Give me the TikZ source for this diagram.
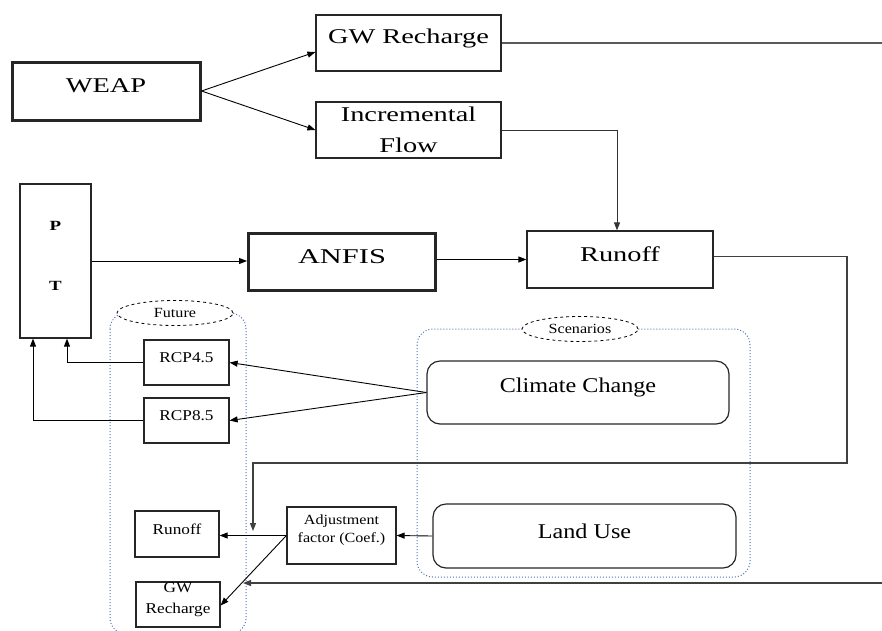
\documentclass[tikz,border=0pt]{standalone}
\usepackage{fontspec}
\setmainfont{Liberation Serif}
\newfontfamily\fA[FakeStretch=1.35]{Liberation Serif}
\newfontfamily\fAA[FakeStretch=1.45]{Liberation Serif}
\newfontfamily\fB[FakeStretch=1.15]{Liberation Serif}
\usetikzlibrary{arrows.meta,shapes.geometric}
\definecolor{dotblue}{HTML}{4F73B8}
\begin{document}
\begin{tikzpicture}[x=1pt,y=-1pt,
  box/.style={draw=black!85,line width=1.2pt,inner sep=0pt},
  thickbox/.style={box,line width=3pt},
  rbox/.style={box,rounded corners=13pt},
  txt/.style={yshift=5pt,inner sep=0pt,align=center},
  txtz/.style={inner sep=0pt,align=center},
  big/.style={font=\fA\fontsize{21}{31}\selectfont},
  bigw/.style={font=\fAA\fontsize{21}{25}\selectfont},
  bigB/.style={font=\fB\fontsize{21}{25}\selectfont},
  sm/.style={font=\fB\fontsize{15}{21}\selectfont},
  arr/.style={-{Triangle[length=8pt,width=6pt]},line width=0.9pt},
  ln/.style={line width=1.2pt,draw=black!65},
  cont/.style={draw=dotblue,dotted,line width=1pt,rounded corners=16pt},
  ell/.style={ellipse,draw,dashed,fill=white,line width=0.8pt,minimum width=116pt,minimum height=25pt,inner sep=0pt,font=\fB\fontsize{14}{16}\selectfont}
]
\useasboundingbox (0,0) rectangle (882,630);

% containers
\draw[cont] (110,313) rectangle (246,634);
\draw[cont] (417,329) rectangle (750,577);
\node[ell] (fut) at (175,313) {Future};
\node[ell] (scen) at (580,329) {Scenarios};

% boxes
\node[thickbox,minimum width=188pt,minimum height=58pt,label={[txt,big]center:WEAP}] (weap) at (106,91) {};
\node[box,minimum width=185pt,minimum height=56pt,label={[txt,big]center:GW Recharge}] (gwr) at (408.5,43) {};
\node[box,minimum width=185pt,minimum height=56pt,label={[txtz,big]center:Incremental\\Flow}] (inc) at (408.5,130) {};
\node[box,minimum width=71pt,minimum height=154pt,label={[txt,font=\fA\bfseries\fontsize{14}{16}\selectfont]center:P\\[44pt]T}] (pt) at (55.5,261) {};
\node[thickbox,minimum width=187pt,minimum height=57pt,label={[txt,bigw]center:ANFIS}] (anfis) at (342,261.5) {};
\node[box,minimum width=186pt,minimum height=57pt,label={[txt,big]center:Runoff}] (runoff) at (620,259.5) {};
\node[box,minimum width=85pt,minimum height=45pt,label={[txt,sm]center:RCP4.5}] (rcp45) at (186.5,362.5) {};
\node[box,minimum width=85pt,minimum height=45pt,label={[txt,sm]center:RCP8.5}] (rcp85) at (186.5,420.5) {};
\node[rbox,minimum width=302pt,minimum height=63pt,label={[txt,bigB]center:Climate Change}] (cc) at (578,392.5) {};
\node[rbox,minimum width=303pt,minimum height=64pt,label={[txt,bigB]center:Land Use}] (lu) at (584.5,536) {};
\node[box,minimum width=109pt,minimum height=57pt,label={[txt,font=\fB\fontsize{14}{18}\selectfont]center:Adjustment\\factor (Coef.)}] (adj) at (341.5,535.5) {};
\node[box,minimum width=84pt,minimum height=46pt,label={[txt,sm]center:Runoff}] (r2) at (177,534) {};
\node[box,minimum width=84pt,minimum height=45pt,label={[txt,sm]center:GW\\Recharge}] (gw2) at (178,604.5) {};

% coordinates
\coordinate (rt) at (882,0);
\coordinate (c1) at (847,463);
\coordinate (j) at (253,531);
\coordinate (b1) at (882,583);
\coordinate (b2) at (243,583);

% connectors
\draw[arr] (weap.east) -- ([yshift=-9pt]gwr.west);
\draw[arr] (weap.east) -- (inc.west);
\draw[ln] (gwr.east) -- (gwr.east -| rt);
\draw[arr,draw=black!80] (inc.east) -| ([xshift=-3pt]runoff.north);
\draw[arr] (pt.east) -- (pt.east -| anfis.west);
\draw[arr] (runoff.west -| anfis.east) -- (runoff.west);
\draw[arr,draw=black!75,line width=1.1pt] ([yshift=3pt]runoff.east) -| (c1) -| (j);
\draw[arr] (cc.west) -- (rcp45.east);
\draw[arr] (cc.west) -- (rcp85.east);
\draw[arr] (rcp45.west) -| ([xshift=11.5pt]pt.south);
\draw[arr] (rcp85.west) -| ([xshift=-22.5pt]pt.south);
\draw[arr] (lu.west) -- (adj.east);
\draw[arr] (adj.west) -- (adj.west -| r2.east);
\draw[arr] (adj.west) -- ([yshift=-1pt]gw2.east);
\draw[arr,draw=black!75,line width=1.1pt] (b1) -- (b2);
\end{tikzpicture}
\end{document}
